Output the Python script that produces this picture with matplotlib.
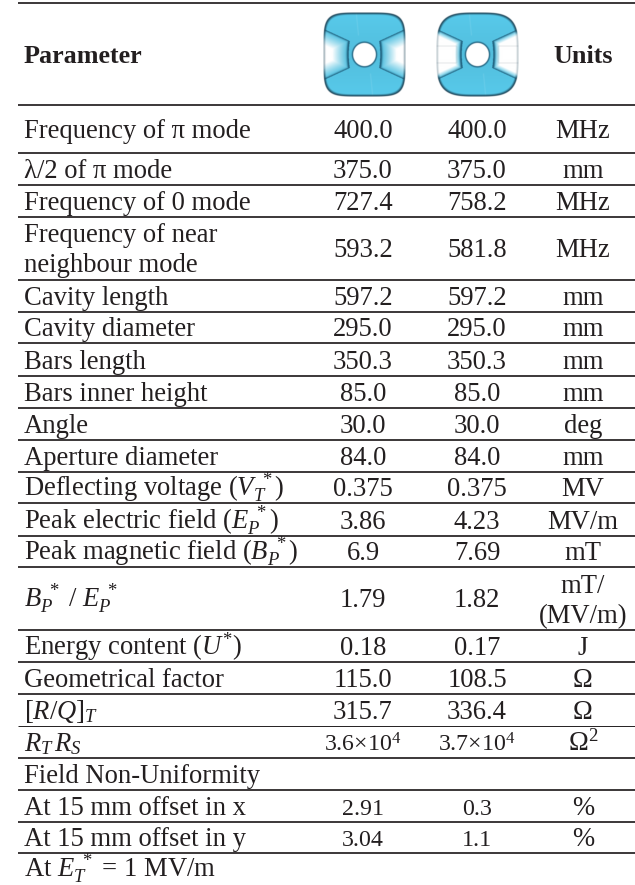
import numpy as np
import matplotlib
matplotlib.use("Agg")
import matplotlib.pyplot as plt
from matplotlib.colors import to_rgb

plt.rcParams['font.family'] = ['Liberation Serif', 'DejaVu Serif']
plt.rcParams['mathtext.fontset'] = 'custom'
plt.rcParams['mathtext.rm'] = 'Liberation Serif'
plt.rcParams['mathtext.it'] = 'Liberation Serif:italic'
plt.rcParams['mathtext.bf'] = 'Liberation Serif:bold'

parameters = [
    "Frequency of π mode", "λ/2 of π mode", "Frequency of 0 mode",
    "Frequency of near\nneighbour mode", "Cavity length", "Cavity diameter",
    "Bars length", "Bars inner height", "Angle", "Aperture diameter",
    r"Deflecting voltage ($V_T^{\ *}$)", r"Peak electric field ($E_P^{\ *}$)",
    r"Peak magnetic field ($B_P^{\ *}$)", r"$B_P^{\ *}$ / $E_P^{\ *}$",
    r"Energy content ($U^{*}$)", "Geometrical factor", r"$[R/Q]_T$", r"$R_T\,R_S$",
    "Field Non-Uniformity", "At 15 mm offset in x", "At 15 mm offset in y",
    r"At $E_T^{\ *}$ = 1 MV/m",
]
design_a = ["400.0", "375.0", "727.4", "593.2", "597.2", "295.0", "350.3", "85.0", "30.0", "84.0",
            "0.375", "3.86", "6.9", "1.79", "0.18", "115.0", "315.7", r"3.6×10$^{4}$", "", "2.91", "3.04", ""]
design_b = ["400.0", "375.0", "758.2", "581.8", "597.2", "295.0", "350.3", "85.0", "30.0", "84.0",
            "0.375", "4.23", "7.69", "1.82", "0.17", "108.5", "336.4", r"3.7×10$^{4}$", "", "0.3", "1.1", ""]
units = ["MHz", "mm", "MHz", "MHz", "mm", "mm", "mm", "mm", "deg", "mm", "MV", "MV/m", "mT",
         "mT/\n(MV/m)", "J", "Ω", "Ω", r"Ω$^{2}$", "", "%", "%", ""]
small_rows = {17, 19, 20}

rules = [3, 105, 153, 184.5, 217, 280, 312, 343, 376, 408, 440, 472, 503, 536, 567,
         630, 662, 694, 726, 758, 790, 822, 853]
bottoms = [153, 184.5, 217, 280, 312, 343, 376, 408, 440, 472, 503, 536, 567, 630, 662, 694,
           726, 758, 790, 822, 853, 885]
W, H = 635, 885
XTEXT, XA, XB, XU = 24, 363, 477, 583
FS = 19.2
INK = "#231f20"

fig = plt.figure(figsize=(W / 100, H / 100), dpi=100)
ax = fig.add_axes([0, 0, 1, 1])
ax.set_xlim(0, W)
ax.set_ylim(H, 0)
ax.axis("off")


def icon(cx, cy, w, h, power, soft, side_edge, bars):
    n = 300
    u, v = np.meshgrid(np.linspace(-1, 1, n), np.linspace(-1, 1, n))
    au, av = np.abs(u), np.abs(v)
    r = (au ** power + av ** power) ** (1 / power)
    rc = np.hypot(u, v)
    blue = np.array(to_rgb("#55c4e4"))
    dark = np.array(to_rgb("#1f5f7c"))
    img = np.ones((n, n, 3)) * blue * (0.97 + 0.06 * av)[..., None]
    seam = np.exp(-((u - 0.16 * np.sign(v) - 0.10 * np.sign(v) * (av - 0.6)) / 0.012) ** 2) * (av > 0.45)
    img = img * (1 - 0.12 * seam[..., None]) + 0.12 * seam[..., None]
    # rib: straight run from the wall, bending round the aperture
    vb = np.where(au > 0.38, 0.33 + (au - 0.38) * 0.45,
                  0.33 - 0.75 * np.clip(0.38 - au, 0, None))
    inner = 0.40 - 0.25 * av ** 2
    inside = (av < vb) & (au > inner - 0.02)
    dist = np.minimum(vb - av, au - inner)
    white = np.clip(dist / soft, 0, 1) ** 1.2 * inside
    img = img * (1 - white[..., None]) + white[..., None]
    rib = np.exp(-(np.clip(dist, 0, None) / 0.035) ** 2) * inside
    mask = rib[..., None] * 0.95
    img = img * (1 - mask) + dark * mask
    if bars:
        line = np.exp(-((av - 0.2) / 0.012) ** 2) * (au > 0.5)
        line = np.maximum(line, np.exp(-((au - 0.5) / 0.012) ** 2) * (av < 0.2))[..., None] * 0.25
        img = img * (1 - line) + np.array([0.5, 0.55, 0.58]) * line
    edge = np.clip((r - 0.93) / 0.05, 0, 1)
    fade = 1 - (1 - side_edge) * np.clip(white * 1.5, 0, 1)
    edge = (edge * fade)[..., None]
    img = img * (1 - edge) + np.array(to_rgb("#173e52")) * edge
    hole = np.clip((0.285 - rc) / 0.02, 0, 1)[..., None]
    ring = np.clip((0.32 - rc) / 0.03, 0, 1)[..., None]
    img = img * (1 - ring) + dark * ring
    img = img * (1 - hole) + hole
    alpha = np.clip((1.0 - r) / 0.02, 0, 1)
    ax.imshow(np.dstack([np.clip(img, 0, 1), alpha]),
              extent=[cx - w / 2, cx + w / 2, cy + h / 2, cy - h / 2],
              aspect="auto", interpolation="bilinear", zorder=2)


icon(364.5, 54.5, 83, 85, 5.0, 0.38, 0.45, False)
icon(477.5, 54.5, 83, 85, 3.6, 0.15, 0.3, True)
ax.set_xlim(0, W)
ax.set_ylim(H, 0)

for y in rules:
    ax.plot([18, W], [y, y], color=INK, lw=0.7 if y == 726 else 1.25, solid_capstyle="butt", zorder=3)

ax.text(XTEXT, 63, "Parameter", fontsize=FS - 0.4, fontweight="bold", color=INK, va="baseline")
ax.text(XU, 63, "Units", fontsize=FS - 0.4, fontweight="bold", color=INK, va="baseline", ha="center")

for i, name in enumerate(parameters):
    b = bottoms[i]
    base = b - 7
    if i == 0:
        base = 138
    if i in (3, 13):
        base = b - 23
    if i == len(parameters) - 1:
        base = 877
    if "\n" in name:
        first, second = name.split("\n")
        ax.text(XTEXT, 242, first, fontsize=FS, color=INK, va="baseline")
        ax.text(XTEXT, 272, second, fontsize=FS, color=INK, va="baseline")
    else:
        ax.text(XTEXT, base, name, fontsize=FS, color=INK, va="baseline")
    size = FS - 2 if i in small_rows else FS
    ax.text(XA, base, design_a[i], fontsize=size, color=INK, va="baseline", ha="center")
    ax.text(XB, base, design_b[i], fontsize=size, color=INK, va="baseline", ha="center")
    if "\n" in units[i]:
        first, second = units[i].split("\n")
        ax.text(XU, 593, first, fontsize=FS, color=INK, va="baseline", ha="center")
        ax.text(XU, 623, second, fontsize=FS, color=INK, va="baseline", ha="center")
    else:
        ax.text(XU, base, units[i], fontsize=FS, color=INK, va="baseline", ha="center")

fig.savefig("out.png", dpi=100, facecolor="white")
